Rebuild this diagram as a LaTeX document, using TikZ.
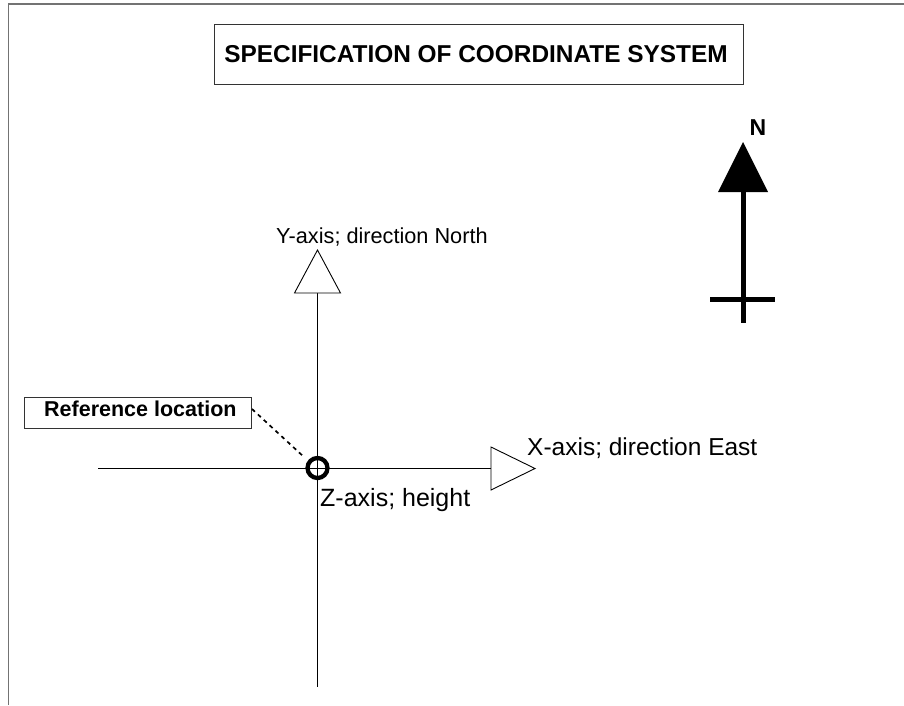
\documentclass[tikz,border=0pt]{standalone}
\usepackage{fontspec}
\setmainfont{Liberation Sans}
\begin{document}
\begin{tikzpicture}[x=1pt,y=-1pt,
  frameline/.style={draw=black!55,line width=1.8pt},
  axisline/.style={draw=black,line width=1pt},
  openhead/.style={draw=black,fill=white,line width=0.9pt,line join=miter},
  boxed/.style={draw=black!80,line width=0.9pt,inner sep=0pt},
  label/.style={inner sep=0pt,anchor=base west},
  northbar/.style={draw=black,line width=5pt},
  leader/.style={draw=black,line width=1.7pt,dash pattern=on 4pt off 4pt}]
\useasboundingbox (0,0) rectangle (904,705);
\fill[white] (0,0) rectangle (904,705);

% outer frame (top and left edges)
\coordinate (fa) at (8.5,705);
\coordinate (fb) at (8.5,4);
\coordinate (fc) at (904,4);
\draw[frameline] (fa) -- (fb) -- (fc);

% title
\node[boxed,minimum width=529pt,minimum height=60pt] (title) at (478.5,54) {};
\node[inner sep=0pt,anchor=base] (titletext) at (476,62)
  {\fontsize{24.4}{28}\selectfont\bfseries SPECIFICATION OF COORDINATE SYSTEM};

% north arrow
\coordinate (ntip) at (743,142);
\coordinate (nbl) at (718,192);
\coordinate (nbr) at (768,192);
\coordinate (nbase) at (743,190);
\coordinate (nend) at (743,323);
\coordinate (cl) at (710,299);
\coordinate (cr) at (775,299);
\fill[black] (ntip) -- (nbl) -- (nbr) -- cycle;
\draw[northbar] (nbase) -- (nend);
\draw[northbar] (cl) -- (cr);
\node[label] (nlabel) at (749.5,135.5) {\fontsize{23}{27}\selectfont\bfseries N};

% coordinate axes
\coordinate (origin) at (317.5,468);
\coordinate (ybase) at (317.5,293);
\coordinate (ybot) at (317.5,687);
\coordinate (xleft) at (98,468);
\coordinate (xbase) at (491,468);
\draw[axisline] (ybase) -- (ybot);
\draw[axisline] (xleft) -- (xbase);

% open arrowheads
\coordinate (ytip) at (317.5,250);
\coordinate (yl) at (294.5,293);
\coordinate (yr) at (340.5,293);
\draw[openhead] (ytip) -- (yl) -- (yr) -- cycle;
\coordinate (xtip) at (535,468.5);
\coordinate (xt) at (491,447);
\coordinate (xb) at (491,490);
\draw[openhead] (xtip) -- (xt) -- (xb) -- cycle;

% axis labels
\node[label] (ylabel) at (276,243) {\fontsize{21.7}{26}\selectfont Y-axis; direction North};
\node[label] (xlabel) at (527,455) {\fontsize{24.5}{29}\selectfont X-axis; direction East};
\node[label] (zlabel) at (320,506) {\fontsize{25}{30}\selectfont Z-axis; height};

% reference location marker
\node[draw=black,line width=4.3pt,circle,minimum size=20pt,inner sep=0pt] (marker) at (origin) {};
\node[boxed,minimum width=227pt,minimum height=31pt] (refbox) at (137.5,412.5) {};
\node[label] (reftext) at (44,416) {\fontsize{21.5}{25}\selectfont\bfseries Reference location};
\coordinate (lstart) at (252,409);
\coordinate (lend) at (304,457);
\draw[leader] (lstart) -- (lend);
\end{tikzpicture}
\end{document}
